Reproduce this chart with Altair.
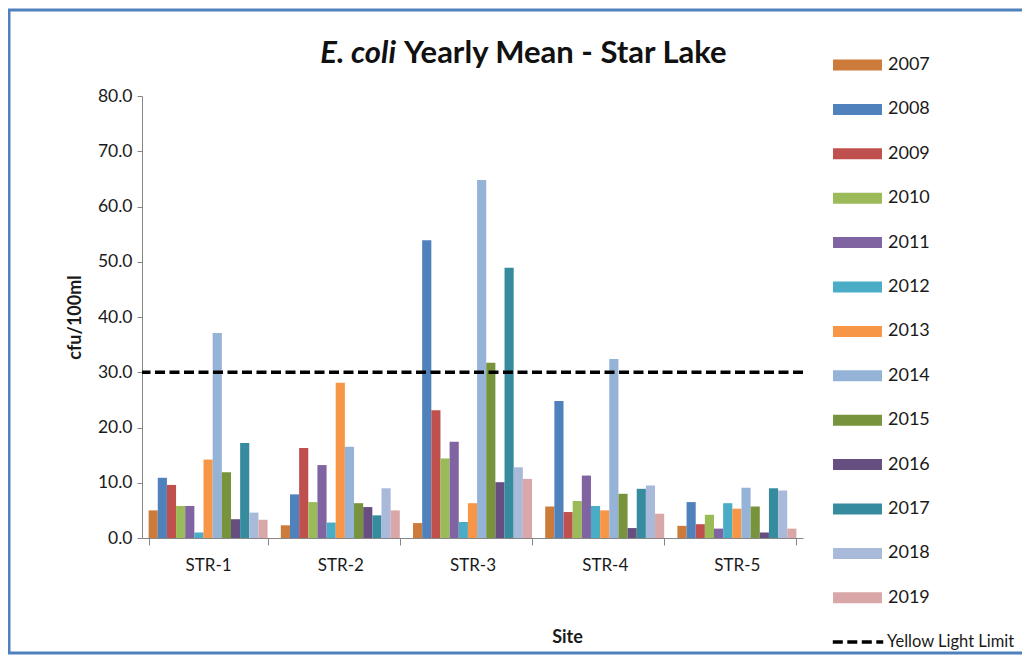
import altair as alt
import pandas as pd

sites = ["STR-1", "STR-2", "STR-3", "STR-4", "STR-5"]
years = [str(y) for y in range(2007, 2020)]
colors = ["#CD7B3A", "#4F81BD", "#C0504D", "#9BBB59", "#8064A2", "#4BACC6",
          "#F79646", "#95B3D7", "#77933C", "#664F80", "#378B9F", "#A9B9DA", "#DAA7A8"]

str1 = [5.0, 10.9, 9.6, 5.8, 5.8, 1.0, 14.2, 37.1, 11.9, 3.4, 17.2, 4.6, 3.3]
str2 = [2.3, 7.9, 16.3, 6.5, 13.2, 2.8, 28.1, 16.5, 6.3, 5.6, 4.1, 9.0, 5.0]
str3 = [2.7, 53.9, 23.1, 14.4, 17.4, 2.9, 6.3, 64.8, 31.7, 10.1, 48.9, 12.8, 10.7]
str4 = [5.7, 24.8, 4.7, 6.7, 11.3, 5.8, 5.0, 32.4, 8.0, 1.8, 8.9, 9.5, 4.4]
str5 = [2.2, 6.5, 2.5, 4.2, 1.7, 6.3, 5.3, 9.1, 5.7, 1.0, 9.0, 8.6, 1.7]
limit_value = [30.0]
limit_label = ["Yellow Light Limit"]
y_ticks = [0, 10, 20, 30, 40, 50, 60, 70, 80]

rows = []
for site, vals in zip(sites, [str1, str2, str3, str4, str5]):
    for yr, v in zip(years, vals):
        rows.append({"Site": site, "Year": yr, "Mean": v})
df = pd.DataFrame(rows)
limit_df = pd.DataFrame({"Mean": limit_value, "label": limit_label})

FONT = "Lato"
AXIS_GRAY = "#868686"
TEXT = "#1a1a1a"

x_enc = alt.X(
    "Site:N", sort=sites,
    scale=alt.Scale(domain=sites, paddingInner=0.1, paddingOuter=0.05),
    axis=alt.Axis(title="Site", tickBand="extent", labelAngle=0, tickSize=7,
                  tickColor=AXIS_GRAY, domainColor=AXIS_GRAY, labelPadding=12,
                  labelFont=FONT, labelFontSize=17, labelColor=TEXT,
                  titleFont=FONT, titleFontSize=18, titleFontWeight="bold", titleColor=TEXT,
                  titleX=425, titleY=99, titleBaseline="middle", titleAlign="center"),
)
y_enc = alt.Y(
    "Mean:Q",
    scale=alt.Scale(domain=[0, 80], nice=False),
    axis=alt.Axis(title="cfu/100ml", values=y_ticks, format=".1f", grid=False,
                  tickSize=5, tickColor=AXIS_GRAY, domainColor=AXIS_GRAY, labelPadding=5,
                  labelFont=FONT, labelFontSize=17.5, labelColor=TEXT,
                  titleFont=FONT, titleFontSize=18, titleFontWeight="bold", titleColor=TEXT,
                  titleX=-67, titleY=221, titleAngle=-90, titleBaseline="middle", titleAlign="center"),
)

border = alt.Chart(pd.DataFrame({"k": [0]})).mark_rect(
    fillOpacity=0, stroke="#4F81BD", strokeWidth=3
).encode(x=alt.value(-133), x2=alt.value(900), y=alt.value(-86), y2=alt.value(557))

bars = alt.Chart(df).mark_bar().encode(
    x=x_enc,
    xOffset=alt.XOffset("Year:N", sort=years, scale=alt.Scale(paddingInner=0, paddingOuter=0)),
    y=y_enc,
    color=alt.Color(
        "Year:N", sort=years, scale=alt.Scale(domain=years, range=colors),
        legend=alt.Legend(title=None, orient="none", legendX=703.5, legendY=-43,
                          direction="vertical",
                          symbolType="M-2.04,-0.46L2.04,-0.46L2.04,0.46L-2.04,0.46Z",
                          symbolSize=576, symbolStrokeWidth=0, symbolOpacity=1,
                          labelFont=FONT, labelFontSize=18, labelColor=TEXT,
                          labelOffset=18.5, rowPadding=23.4, padding=0),
    ),
)

rule = alt.Chart(limit_df).mark_rule(color="black", strokeWidth=3.5).encode(
    y=alt.Y("Mean:Q"),
    strokeDash=alt.StrokeDash(
        "label:N", scale=alt.Scale(domain=limit_label, range=[[10, 4.5]]),
        legend=alt.Legend(title=None, orient="none", legendX=702, legendY=532,
                          symbolType="M-2.1,0L2.1,0", symbolSize=576,
                          symbolStrokeWidth=3.5, symbolStrokeColor="black",
                          symbolFillColor="transparent",
                          labelFont=FONT, labelFontSize=16.5, labelColor=TEXT,
                          labelOffset=15, padding=0),
    ),
)

title_a = alt.Chart(pd.DataFrame({"t": ["E. coli"]})).mark_text(
    font=FONT, fontSize=31, fontWeight="bold", fontStyle="italic", color="#111",
    align="right", baseline="alphabetic"
).encode(text="t:N", x=alt.value(254), y=alt.value(-33))

title_b = alt.Chart(pd.DataFrame({"t": ["Yearly Mean - Star Lake"]})).mark_text(
    font=FONT, fontSize=31, fontWeight="bold", color="#111",
    align="left", baseline="alphabetic"
).encode(text="t:N", x=alt.value(262), y=alt.value(-33))

chart = alt.layer(border, bars, rule, title_a, title_b).properties(
    width=661, height=442,
    autosize=alt.AutoSizeParams(type="none"),
    padding={"left": 134, "top": 88, "right": 219, "bottom": 117},
    background="white",
).configure_view(strokeWidth=0)

chart.save("out.html", embed_options={"renderer": "svg", "actions": False})
